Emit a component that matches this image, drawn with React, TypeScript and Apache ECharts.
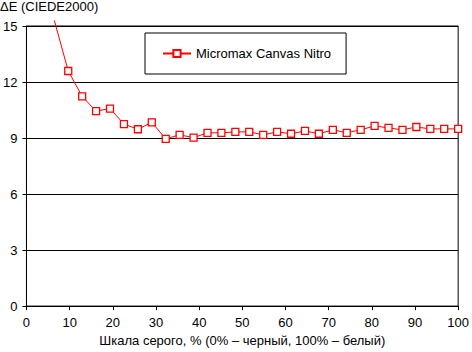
import React, { useEffect, useRef } from "react";
import * as echarts from "echarts";

const grayLevels = [6.45, 9.68, 12.9, 16.13, 19.35, 22.58, 25.81, 29.03, 32.26, 35.48, 38.71, 41.94, 45.16, 48.39, 51.61, 54.84, 58.06, 61.29, 64.52, 67.74, 70.97, 74.19, 77.42, 80.65, 83.87, 87.1, 90.32, 93.55, 96.77, 100];
const deltaE = [15.3, 12.59, 11.23, 10.44, 10.58, 9.75, 9.47, 9.84, 8.96, 9.17, 9.02, 9.28, 9.28, 9.33, 9.33, 9.17, 9.33, 9.23, 9.38, 9.23, 9.44, 9.28, 9.44, 9.65, 9.54, 9.44, 9.59, 9.49, 9.49, 9.49];
const seriesName = "Micromax Canvas Nitro";
const yTitle = "ΔE (CIEDE2000)";
const xTitle = "Шкала серого, % (0% – черный, 100% – белый)";

const FONT = "Arial, 'Liberation Sans', sans-serif";

export default function App() {
  const ref = useRef<HTMLDivElement>(null);
  useEffect(() => {
    if (!ref.current) return;
    const chart = echarts.init(ref.current, undefined, { renderer: "svg" });
    const data = grayLevels.map((x, i) =>
      i === 0 ? { value: [x, deltaE[i]], symbol: "none" } : { value: [x, deltaE[i]] }
    );
    chart.setOption({
      animation: false,
      backgroundColor: "#fff",
      textStyle: { fontFamily: FONT },
      grid: { left: 22, right: 10, top: 26, bottom: 41, show: true, borderColor: "#000", borderWidth: 1, containLabel: false },
      graphic: [
        { type: "text", left: 0, top: 0, style: { text: yTitle, fontSize: 13, fontFamily: FONT, fill: "#000" } },
      ],
      legend: {
        left: 145,
        top: 33,
        orient: "horizontal",
        backgroundColor: "#fff",
        borderColor: "#000",
        borderWidth: 1,
        padding: [14, 15, 14, 17],
        itemWidth: 28,
        itemHeight: 9,
        itemGap: 5,
        textStyle: { fontSize: 13, fontFamily: FONT, color: "#000" },
        data: [seriesName],
      },
      xAxis: {
        type: "value",
        min: 0,
        max: 100,
        interval: 10,
        name: xTitle,
        nameLocation: "middle",
        nameGap: 25,
        nameTextStyle: { fontSize: 13, fontFamily: FONT, color: "#000" },
        axisLine: { lineStyle: { color: "#000", width: 1 } },
        axisTick: { show: true, inside: false, length: 4, lineStyle: { color: "#000" } },
        axisLabel: { fontSize: 13, fontFamily: FONT, color: "#000", margin: 10 },
        splitLine: { show: false },
      },
      yAxis: {
        type: "value",
        min: 0,
        max: 15,
        interval: 3,
        axisLine: { show: true, lineStyle: { color: "#000", width: 1 } },
        axisTick: { show: true, inside: false, length: 4, lineStyle: { color: "#000" } },
        axisLabel: { fontSize: 13, fontFamily: FONT, color: "#000", margin: 9 },
        splitLine: { show: true, lineStyle: { color: "#000", width: 1 } },
      },
      series: [
        {
          name: seriesName,
          type: "line",
          data,
          clip: false,
          symbol: "rect",
          symbolSize: 7,
          showAllSymbol: true,
          lineStyle: { color: "#ff0000", width: 1 },
          itemStyle: { color: "#fff", borderColor: "#ff0000", borderWidth: 1.3 },
          emphasis: { disabled: true },
        },
      ],
    });
    return () => chart.dispose();
  }, []);
  return <div ref={ref} style={{ width: 472, height: 352, position: "absolute", left: 0, top: 0 }} />;
}
